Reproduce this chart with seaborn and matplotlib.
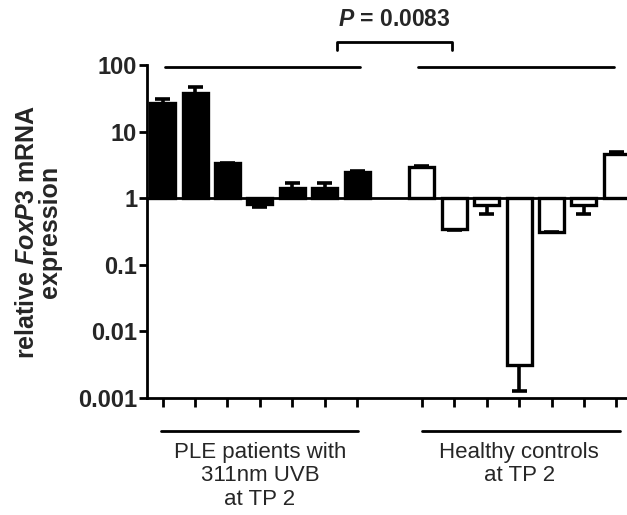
import numpy as np
import pandas as pd
import matplotlib
matplotlib.use("Agg")
import matplotlib.pyplot as plt
import seaborn as sns

# --- data (relative FoxP3 mRNA expression, log scale)
ple_expr = [26.6, 37.5, 3.42, 0.82, 1.41, 1.41, 2.5]
ple_err_end = [30.5, 46.0, 3.42, 0.74, 1.71, 1.71, 2.6]
hc_expr = [2.92, 0.343, 0.79, 0.00316, 0.316, 0.80, 4.62]
hc_err_end = [3.08, 0.33, 0.58, 0.00126, 0.31, 0.58, 5.0]

group_names = ["PLE", "HC"]
group_labels = ["PLE patients with\n311nm UVB\nat TP 2", "Healthy controls\nat TP 2"]
y_ticks = [0.001, 0.01, 0.1, 1, 10, 100]
y_ticklabels = ["0.001", "0.01", "0.1", "1", "10", "100"]
p_text = r"$P$ = 0.0083"

sns.set_theme(style="ticks")
plt.rcParams["font.family"] = ["Liberation Sans", "DejaVu Sans"]
plt.rcParams["mathtext.fontset"] = "custom"
plt.rcParams["mathtext.it"] = "Liberation Sans:italic:bold"
plt.rcParams["mathtext.rm"] = "Liberation Sans:bold"
plt.rcParams["mathtext.bf"] = "Liberation Sans:bold"

# bar positions: two groups of 7 with a gap of one slot
n1, n2 = len(ple_expr), len(hc_expr)
pos = np.r_[np.arange(n1), np.arange(n1 + 1, n1 + 1 + n2)]
vals = np.array(ple_expr + hc_expr)
ends = np.array(ple_err_end + hc_err_end)

df = pd.DataFrame({
    "pos": pos,
    "delta": vals - 1,  # bars hang from 1
    "group": [group_names[0]] * n1 + [group_names[1]] * n2,
})

fig = plt.figure(figsize=(6.27, 5.15), dpi=100)
ax = fig.add_axes([0.2344, 0.2272, 0.7656, 0.6466])

sns.barplot(data=df, x="pos", y="delta", hue="group",
            palette={"PLE": "black", "HC": "white"},
            native_scale=True, dodge=False, width=0.77, errorbar=None,
            edgecolor="black", linewidth=2.4, bottom=1, legend=False,
            ax=ax, zorder=2)

ax.set_yscale("log")
ax.set_ylim(0.001, 100)
ax.set_xlim(-0.485, 14.33)

# one-sided error bars
ax.vlines(pos, vals, ends, color="black", lw=2.6, zorder=3)
ax.hlines(ends, pos - 0.23, pos + 0.23, color="black", lw=2.6, zorder=3)

# baseline at 1
ax.axhline(1, color="black", lw=2, zorder=4)

# axes styling
sns.despine(ax=ax)
for s in ["left", "bottom"]:
    ax.spines[s].set_linewidth(2)
    ax.spines[s].set_color("black")
ax.set_yticks(y_ticks)
ax.set_yticklabels(y_ticklabels, fontsize=17, fontweight="bold")
ax.minorticks_off()
ax.set_xticks(pos)
ax.set_xticklabels([])
ax.tick_params(axis="y", length=6, width=2, color="black", pad=1)
ax.tick_params(axis="x", length=6.5, width=2, color="black")
ax.set_xlabel("")
ax.set_ylabel("")

fig.text(0.062, 0.549, "relative $\\mathit{FoxP3}$ mRNA\nexpression",
         rotation=90, ha="center", va="center", multialignment="center",
         fontsize=18, fontweight="bold", linespacing=0.95)

# group lines above the bars
ax.plot([0.07, 6.09], [93, 93], color="black", lw=2, clip_on=False)
ax.plot([7.88, 13.93], [93, 93], color="black", lw=2, clip_on=False)

# significance bracket
ax.plot([5.38, 5.38, 8.94, 8.94], [167, 223, 223, 167], color="black",
        lw=2, clip_on=False)
ax.text(7.15, 483, p_text, ha="center", va="center", fontsize=16.5,
        fontweight="bold")

# group lines and labels below the axis
ax.plot([-0.06, 6.03], [0.000316, 0.000316], color="black", lw=2, clip_on=False)
ax.plot([7.99, 14.1], [0.000316, 0.000316], color="black", lw=2, clip_on=False)
ax.text(3.0, 0.00022, group_labels[0], ha="center", va="top", fontsize=16,
        linespacing=1.15)
ax.text(11.0, 0.00022, group_labels[1], ha="center", va="top", fontsize=16,
        linespacing=1.15)

fig.savefig("out.png", dpi=100)
